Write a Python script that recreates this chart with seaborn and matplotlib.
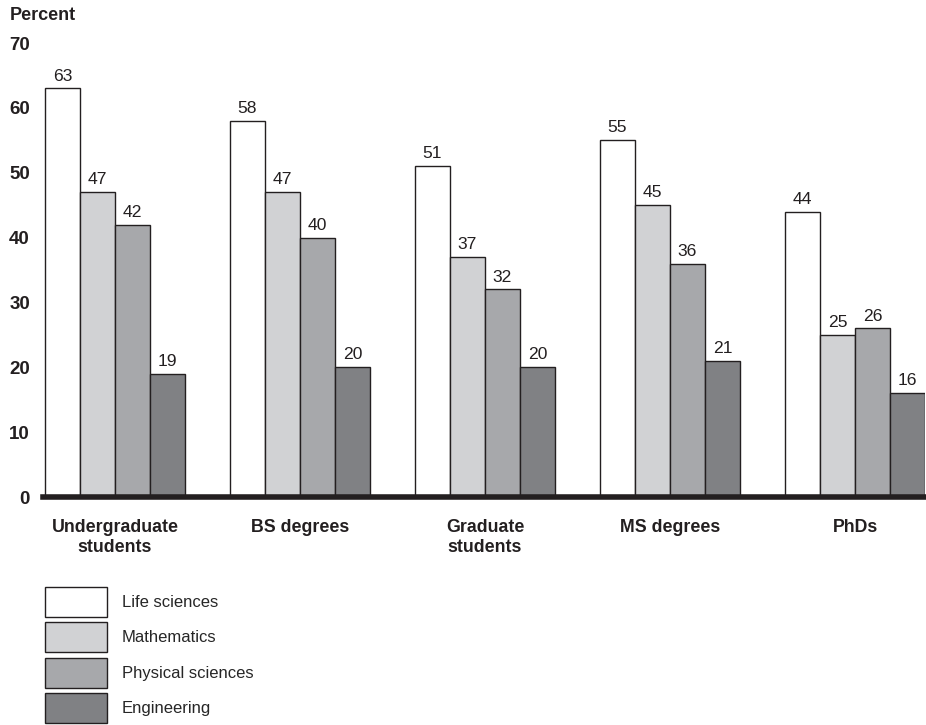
import pandas as pd
import matplotlib
matplotlib.use("Agg")
import matplotlib.pyplot as plt
import seaborn as sns

# Data
stages = ["Undergraduate\nstudents", "BS degrees", "Graduate\nstudents", "MS degrees", "PhDs"]
fields = ["Life sciences", "Mathematics", "Physical sciences", "Engineering"]
life_sciences = [63, 58, 51, 55, 44]
mathematics = [47, 47, 37, 45, 25]
physical_sciences = [42, 40, 32, 36, 26]
engineering = [19, 20, 20, 21, 16]
y_ticks = [0, 10, 20, 30, 40, 50, 60, 70]

palette = ["#ffffff", "#d1d2d4", "#a7a8ab", "#808184"]
edge = "#231f20"


def build_frame() -> pd.DataFrame:
    rows = []
    for field, vals in zip(fields, [life_sciences, mathematics, physical_sciences, engineering]):
        for stage, v in zip(stages, vals):
            rows.append({"Stage": stage, "Field": field, "Percent": v})
    return pd.DataFrame(rows)


def plot_data(df: pd.DataFrame) -> None:
    sns.set_style("white")
    plt.rcParams["font.family"] = ["Liberation Sans", "DejaVu Sans"]

    fig = plt.figure(figsize=(9.26, 7.25), dpi=100)
    ax = fig.add_axes([43 / 926, 228 / 725, (925 - 43) / 926, (497 - 43) / 725])

    sns.barplot(data=df, x="Stage", y="Percent", hue="Field", order=stages, hue_order=fields,
                palette=palette, width=0.757, edgecolor=edge, linewidth=1.0,
                errorbar=None, ax=ax, saturation=1)

    for c in ax.containers:
        ax.bar_label(c, padding=3.5, fontsize=12.6, color="#231f20")

    ax.set_ylim(0, 70)
    ax.set_xlim(-0.389, 4.378)
    ax.set_yticks(y_ticks)
    ax.set_xlabel("")
    ax.set_ylabel("")
    for s in ["left", "right", "top"]:
        ax.spines[s].set_visible(False)
    ax.spines["bottom"].set_linewidth(4)
    ax.spines["bottom"].set_color("#231f20")
    ax.spines["bottom"].set_zorder(5)
    ax.tick_params(axis="both", length=0)
    ax.tick_params(axis="y", pad=9.4)
    ax.tick_params(axis="x", pad=16)
    for lbl in ax.get_yticklabels():
        lbl.set_fontweight("bold")
        lbl.set_fontsize(13.5)
        lbl.set_color("#231f20")
    for lbl in ax.get_xticklabels():
        lbl.set_fontweight("bold")
        lbl.set_fontsize(12.8)
        lbl.set_color("#231f20")

    fig.text(10 / 926, 1 - 15 / 725, "Percent", fontweight="bold", fontsize=13,
             va="center", ha="left", color="#231f20")

    handles, labels = ax.get_legend_handles_labels()
    ax.legend_.remove()
    fig.legend(handles, labels, loc="upper left", bbox_to_anchor=(45 / 926, 1 - 587 / 725),
               frameon=False, fontsize=12, handlelength=3.72, handleheight=2.39,
               labelspacing=0.32, handletextpad=0.9, borderpad=0, borderaxespad=0)

    fig.savefig("out.png", dpi=100, facecolor="white")


def main() -> None:
    df = build_frame()
    plot_data(df)


if __name__ == "__main__":
    main()
